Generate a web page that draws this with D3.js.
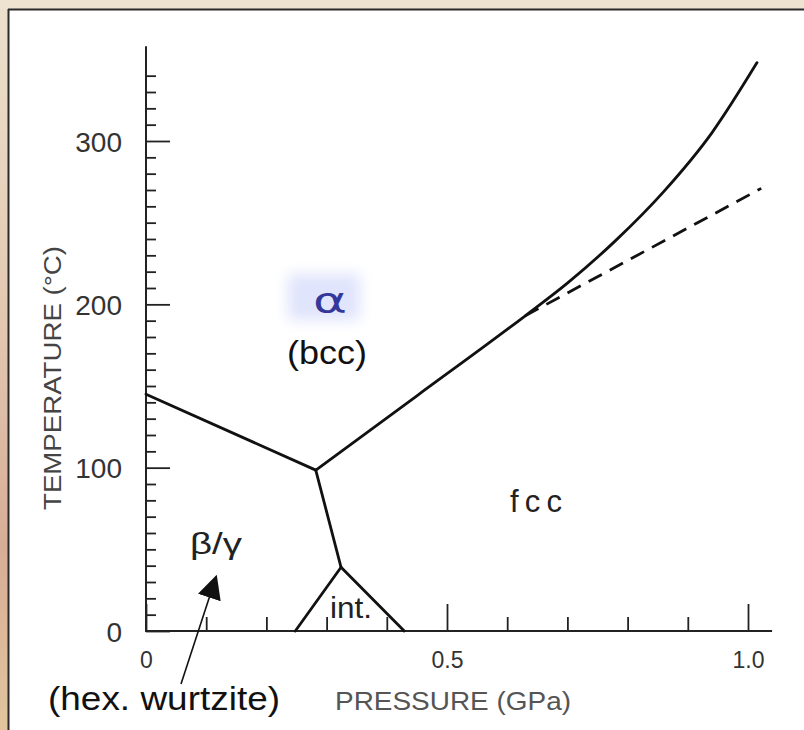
<!DOCTYPE html>
<html>
<head>
<meta charset="utf-8">
<script src="https://cdn.jsdelivr.net/npm/d3@7"></script>
<style>
  html, body { margin: 0; padding: 0; background: #fff; }
  svg { display: block; }
</style>
</head>
<body>
<svg id="chart" width="804" height="730"></svg>
<script>
// ---- data ----
const yMajorTicks = [0, 100, 200, 300];
const yMinorTicks = [10,20,30,40,50,60,70,80,90,110,120,130,140,150,160,170,180,190,
                     210,220,230,240,250,260,270,280,290,310,320,330,340];
const xMajorTicks = [0, 0.5, 1.0];
const xMajorLabels = ["0", "0.5", "1.0"];
const xMinorTicks = [0.1, 0.2, 0.3, 0.4, 0.6, 0.7, 0.8, 0.9];

// phase boundaries [pressure GPa, temperature °C]
const alphaBeta   = [[0, 145], [0.282, 98.5]];
const alphaFcc    = [[0.282, 98.5], [0.45, 144], [0.63, 193], [0.70, 213], [0.78, 239], [0.86, 269], [0.94, 305], [1.015, 348]];
const alphaFccExt = [[0.63, 193], [1.022, 271]];
const betaInt     = [[0.282, 98.5], [0.324, 39]];
const intLeft     = [[0.324, 39], [0.248, 0]];
const intRight    = [[0.324, 39], [0.429, 0]];

const svg = d3.select("#chart");
const defs = svg.append("defs");

// background frame
const grad = defs.append("linearGradient").attr("id", "wood").attr("x1", 0).attr("y1", 0).attr("x2", 0).attr("y2", 1);
grad.append("stop").attr("offset", "0%").attr("stop-color", "#ece1cd");
grad.append("stop").attr("offset", "45%").attr("stop-color", "#e3c7b0");
grad.append("stop").attr("offset", "75%").attr("stop-color", "#d8ad96");
grad.append("stop").attr("offset", "100%").attr("stop-color", "#e2c59e");
svg.append("rect").attr("x", 0).attr("y", 0).attr("width", 804).attr("height", 730).attr("fill", "url(#wood)");
svg.append("rect").attr("x", 0).attr("y", 0).attr("width", 804).attr("height", 9).attr("fill", "#ede3d0");
svg.append("rect").attr("x", 9).attr("y", 10).attr("width", 795).attr("height", 720).attr("fill", "#ffffff");
svg.append("line").attr("x1", 8).attr("x2", 804).attr("y1", 9.5).attr("y2", 9.5).attr("stroke", "#2a2a2a").attr("stroke-width", 2);
svg.append("line").attr("x1", 8.5).attr("x2", 8.5).attr("y1", 9).attr("y2", 730).attr("stroke", "#2a2a2a").attr("stroke-width", 2);

// scales
const x = d3.scaleLinear().domain([0, 1]).range([146, 748]);
const y = d3.scaleLinear().domain([0, 300]).range([631, 141]);

const font = "'Liberation Sans', Arial, sans-serif";

// y axis
const gy = svg.append("g").attr("transform", `translate(${x(0)},0)`);
gy.call(d3.axisLeft(y).tickValues(yMinorTicks).tickSizeInner(-10).tickSizeOuter(0).tickFormat(""));
gy.select(".domain").remove();
const gy2 = svg.append("g").attr("transform", `translate(${x(0)},0)`);
gy2.call(d3.axisLeft(y).tickValues(yMajorTicks).tickSizeInner(-24).tickSizeOuter(0).tickPadding(24).tickFormat(d3.format("d")));
gy2.select(".domain").remove();
svg.selectAll("g.tick line").attr("stroke", "#222").attr("stroke-width", 1.8);
gy2.selectAll("text").attr("font-family", font).attr("font-size", 28).attr("fill", "#333").attr("dy", "0.36em");
svg.append("line").attr("x1", x(0)).attr("x2", x(0)).attr("y1", y(0) + 1).attr("y2", y(358))
  .attr("stroke", "#222").attr("stroke-width", 2);

// x axis
const gx = svg.append("g").attr("transform", `translate(0,${y(0)})`);
gx.call(d3.axisBottom(x).tickValues(xMinorTicks).tickSizeInner(-14).tickSizeOuter(0).tickFormat(""));
gx.select(".domain").remove();
const gx2 = svg.append("g").attr("transform", `translate(0,${y(0)})`);
gx2.call(d3.axisBottom(x).tickValues(xMajorTicks).tickSizeInner(-27).tickSizeOuter(0).tickPadding(21)
  .tickFormat((d, i) => xMajorLabels[i]));
gx2.select(".domain").remove();
gx.selectAll("line").attr("stroke", "#222").attr("stroke-width", 1.8);
gx2.selectAll("line").attr("stroke", "#222").attr("stroke-width", 1.8);
gx2.selectAll("text").attr("font-family", font).attr("font-size", 23).attr("fill", "#333");
svg.append("line").attr("x1", x(0) - 1).attr("x2", x(1.04)).attr("y1", y(0)).attr("y2", y(0))
  .attr("stroke", "#222").attr("stroke-width", 2);

// axis titles
svg.append("text").attr("transform", `translate(61,378) rotate(-90)`).attr("text-anchor", "middle")
  .attr("font-family", font).attr("font-size", 23).attr("fill", "#444")
  .attr("textLength", 264).attr("lengthAdjust", "spacingAndGlyphs")
  .text("TEMPERATURE (°C)");
svg.append("text").attr("x", 453).attr("y", 710).attr("text-anchor", "middle")
  .attr("font-family", font).attr("font-size", 25).attr("fill", "#555")
  .attr("textLength", 236).attr("lengthAdjust", "spacingAndGlyphs")
  .text("PRESSURE (GPa)");

// phase boundaries
const line = d3.line().x(d => x(d[0])).y(d => y(d[1]));
const curve = d3.line().x(d => x(d[0])).y(d => y(d[1])).curve(d3.curveMonotoneX);
const pathStyle = p => p.attr("fill", "none").attr("stroke", "#111").attr("stroke-width", 2.8)
  .attr("stroke-linejoin", "round").attr("stroke-linecap", "round");
[alphaBeta, betaInt, intLeft, intRight].forEach(d => pathStyle(svg.append("path").attr("d", line(d))));
pathStyle(svg.append("path").attr("d", curve(alphaFcc)));
pathStyle(svg.append("path").attr("d", line(alphaFccExt))).attr("stroke-dasharray", "15,9").attr("stroke-linecap", "butt");

// labels
const blur = defs.append("filter").attr("id", "glow").attr("x", "-50%").attr("y", "-50%").attr("width", "200%").attr("height", "200%");
blur.append("feGaussianBlur").attr("stdDeviation", 7);
svg.append("rect").attr("x", 288).attr("y", 274).attr("width", 72).attr("height", 46)
  .attr("fill", "#e0e4fc").attr("filter", "url(#glow)");
svg.append("text").attr("x", 330).attr("y", 313).attr("text-anchor", "middle")
  .attr("font-family", "'DejaVu Sans', sans-serif").attr("font-size", 36).attr("fill", "#34379a")
  .attr("textLength", 34).attr("lengthAdjust", "spacingAndGlyphs")
  .text("α");
svg.append("text").attr("x", 327).attr("y", 364).attr("text-anchor", "middle")
  .attr("font-family", font).attr("font-size", 33).attr("fill", "#111")
  .attr("textLength", 80).attr("lengthAdjust", "spacingAndGlyphs").text("(bcc)");
svg.append("text").attr("x", 536).attr("y", 512).attr("text-anchor", "middle")
  .attr("font-family", font).attr("font-size", 31).attr("fill", "#222")
  .attr("textLength", 52).attr("lengthAdjust", "spacing").text("fcc");
svg.append("text").attr("x", 216).attr("y", 554).attr("text-anchor", "middle")
  .attr("font-family", font).attr("font-size", 30).attr("fill", "#222")
  .attr("textLength", 52).attr("lengthAdjust", "spacingAndGlyphs").text("β/γ");
svg.append("text").attr("x", 351).attr("y", 618).attr("text-anchor", "middle")
  .attr("font-family", font).attr("font-size", 29).attr("fill", "#222")
  .attr("textLength", 42).attr("lengthAdjust", "spacingAndGlyphs").text("int.");
svg.append("text").attr("x", 164).attr("y", 710).attr("text-anchor", "middle")
  .attr("font-family", font).attr("font-size", 33).attr("fill", "#111")
  .attr("textLength", 232).attr("lengthAdjust", "spacingAndGlyphs").text("(hex. wurtzite)");

// arrow
defs.append("marker").attr("id", "arrow").attr("viewBox", "0 0 10 10").attr("refX", 9).attr("refY", 5)
  .attr("markerWidth", 24).attr("markerHeight", 24).attr("markerUnits", "userSpaceOnUse")
  .attr("orient", "auto")
  .append("path").attr("d", "M0,0 L10,5 L0,10 Z").attr("fill", "#111");
svg.append("line").attr("x1", 181).attr("y1", 684).attr("x2", 216).attr("y2", 577)
  .attr("stroke", "#111").attr("stroke-width", 1.6).attr("marker-end", "url(#arrow)");
</script>
</body>
</html>
